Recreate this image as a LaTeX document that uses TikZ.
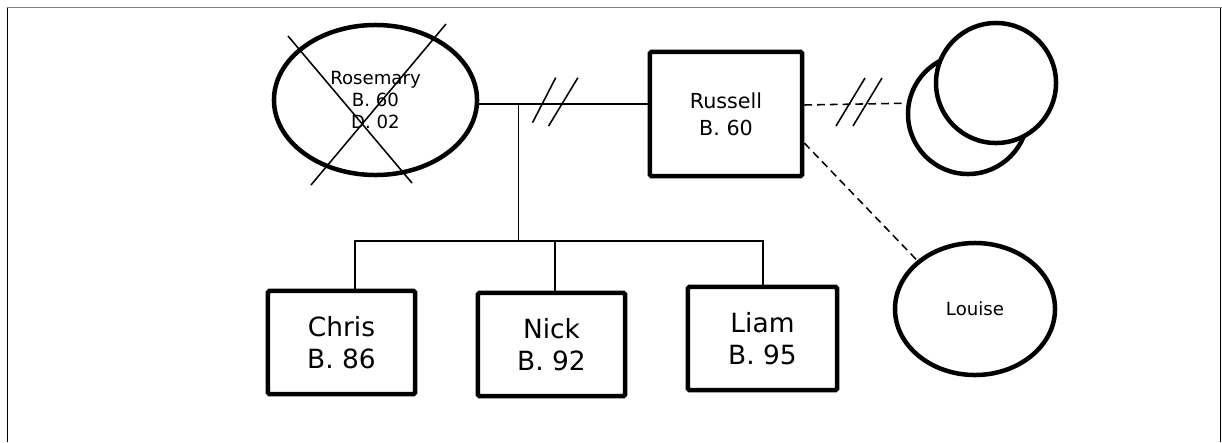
\documentclass[tikz,border=0pt]{standalone}
\usepackage{fontspec}
\setmainfont{DejaVu Sans}
\usetikzlibrary{positioning}
\usetikzlibrary{calc}
\usetikzlibrary{shapes.geometric}

\tikzset{
    person/.style={draw, line width=3.2pt, align=center, inner sep=0pt},
    male/.style={person, rectangle, rounded corners=1pt},
    female/.style={person, ellipse},
    kid/.style={male, minimum width=3.675cm, minimum height=2.575cm,
        font=\fontsize{18.8}{22.5}\selectfont},
    tie/.style={line width=1.1pt},
    affair/.style={tie, dash pattern=on 5.5pt off 3.6pt},
}

\begin{document}
\begin{tikzpicture}[x=0.025cm, y=-0.025cm]
        \useasboundingbox (0,0) rectangle (1222,442);
        % page frame
        \draw[gray, line width=0.9pt] (7,7.5) -- (1222,7.5);
        \draw[line width=0.7pt] (7,7.5) -- (7,442);
        \draw[line width=0.7pt] (1220.5,7.5) -- (1220.5,442);

        \node[female, minimum width=5.075cm, minimum height=3.75cm,
            font=\fontsize{12.9}{15.3}\selectfont] (Rosemary) at (375.5,100)
            {Rosemary\\B. 60\\D. 02};
        \node[male, minimum width=3.8cm, minimum height=3.1cm,
            font=\fontsize{14.7}{19}\selectfont] (Russell) at (726,114)
            {Russell\\B. 60};

        % deceased
        \draw[tie] ($(Rosemary.center)+(-87.5,-64)$) -- ($(Rosemary.center)+(36.5,83)$);
        \draw[tie] ($(Rosemary.center)+(70.5,-76)$) -- ($(Rosemary.center)+(-64.5,85)$);

        \node[kid] (Chris) at (341.5,342.5) {Chris\\B. 86};
        \node[kid] (Nick) at (551.5,344.5) {Nick\\B. 92};
        \node[kid, minimum width=3.725cm] (Liam) at (762.5,338.5) {Liam\\B. 95};

        \node[female, minimum width=4cm, minimum height=3.3cm,
            font=\fontsize{12.9}{15.3}\selectfont] (Louise) at (975,309) {Louise};

        \node[person, circle, minimum size=3cm] (Ex) at (968,114) {};
        \node[person, circle, minimum size=3cm, fill=white] (ExTwo) at (996,83) {};

        % marriage, divorced
        \draw[tie] ($(Rosemary.east)+(0,4)$) -- coordinate[pos=0.233] (kids)
            ($(Russell.west)+(0,-10)$);
        \draw[tie] (532.5,122.7) -- (555.7,77.7);
        \draw[tie] (548.6,126) -- (577.9,77.7);

        \draw[tie] (kids) -- ++(0,137) coordinate (bar);
        \coordinate (cdrop) at ($(Chris.north)+(13.5,0)$);
        \coordinate (ndrop) at ($(Nick.north)+(3.5,0)$);
        \coordinate (ldrop) at ($(Liam.north)+(0.5,0)$);
        \draw[tie] (cdrop) -- (cdrop |- bar) -- (ldrop |- bar) -- (ldrop);
        \draw[tie] (ndrop |- bar) -- (ndrop);

        % other partners
        \draw[affair] ($(Russell.east)+(0,-9)$) -- (Ex.170);
        \draw[tie] (836,126) -- (865,78);
        \draw[tie] (853,126) -- (882,78);
        \draw[affair] ($(Russell.east)+(0,29)$) -- (Louise.140);
    \end{tikzpicture}
\end{document}
